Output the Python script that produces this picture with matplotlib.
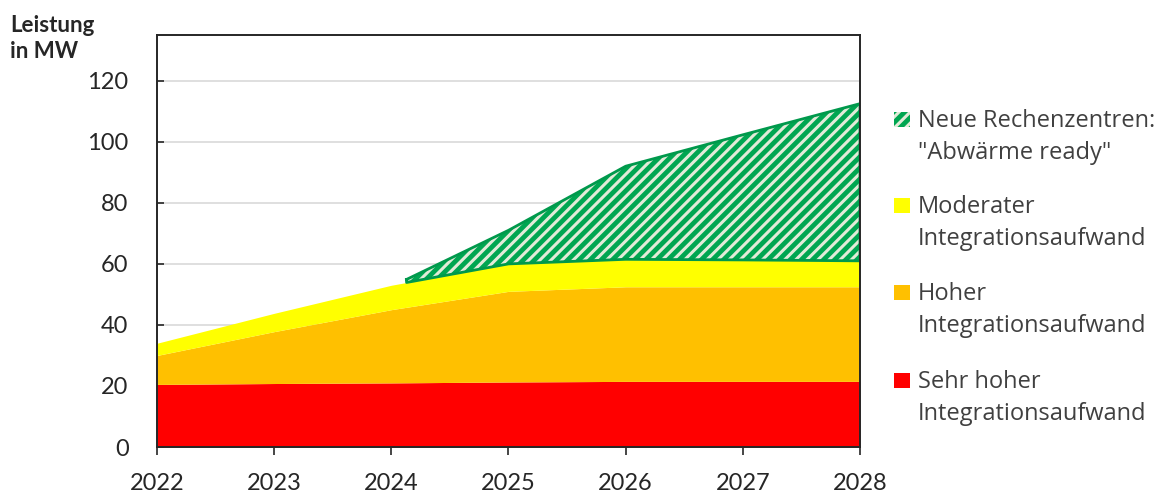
import matplotlib
matplotlib.use("Agg")
import matplotlib.pyplot as plt
from matplotlib.patches import Rectangle
import numpy as np

# Installed capacity (MW) per year, stacked by integration effort
years = [2022, 2023, 2024, 2025, 2026, 2027, 2028]
sehr_hoch = [20.5, 20.8, 21.0, 21.3, 21.5, 21.5, 21.5]
hoch = [9.5, 17.0, 24.0, 29.7, 31.0, 31.0, 31.0]
moderat = [4.0, 6.0, 8.0, 9.0, 9.0, 8.8, 8.5]

# New data centres, "waste-heat ready" (starts early 2024)
neu_years = [2024.13, 2025, 2026, 2027, 2028]
neu_values = [1.0, 11.0, 30.5, 41.0, 51.5]

series_labels = [
    'Neue Rechenzentren:\n"Abwärme ready"',
    "Moderater\nIntegrationsaufwand",
    "Hoher\nIntegrationsaufwand",
    "Sehr hoher\nIntegrationsaufwand",
]
y_ticks = [0, 20, 40, 60, 80, 100, 120]

c_red = "#FF0000"
c_orange = "#FFC000"
c_yellow = "#FFFF00"
c_green = "#00A651"
c_hatch = "#E2EBD8"

plt.rcParams["font.family"] = ["Lato", "DejaVu Sans"]
plt.rcParams["hatch.linewidth"] = 2.2

W, H = 1173.0, 493.0
fig = plt.figure(figsize=(W / 100, H / 100), dpi=100)
ax = fig.add_axes([157 / W, 1 - 447 / H, (860 - 157) / W, (447 - 35) / H])

x = np.array(years, dtype=float)
l1 = np.array(sehr_hoch)
l2 = l1 + np.array(hoch)
l3 = l2 + np.array(moderat)

ax.fill_between(x, 0, l1, color=c_red, lw=0, zorder=2)
ax.fill_between(x, l1, l2, color=c_orange, lw=0, zorder=2)
ax.fill_between(x, l2, l3, color=c_yellow, lw=0, zorder=2)

xn = np.array(neu_years)
base_n = np.interp(xn, x, l3)
top_n = base_n + np.array(neu_values)
ax.fill_between(xn, base_n, top_n, facecolor=c_green, edgecolor="none", lw=0, zorder=2)
ax.fill_between(xn, base_n, top_n, facecolor="none", edgecolor=c_hatch, hatch="///", lw=0, zorder=3)
ax.plot(np.r_[xn, xn[::-1], xn[:1]], np.r_[top_n, base_n[::-1], top_n[:1]],
        color="#00994C", lw=2.0, zorder=4, solid_joinstyle="round")

ax.set_xlim(2022, 2028)
ax.set_ylim(0, 135)
ax.set_yticks(y_ticks)
ax.set_xticks(years)
ax.set_xticklabels([str(y) for y in years])
ax.grid(axis="y", color="#D9D9D9", lw=1.2, zorder=0)
ax.set_axisbelow(True)
for s in ax.spines.values():
    s.set_color("#262626")
    s.set_linewidth(1.4)
    s.set_zorder(6)
ax.tick_params(axis="y", direction="in", length=5, width=1.2, labelsize=17, pad=20.5, colors="#262626")
ax.tick_params(axis="x", direction="out", length=6, width=1.2, labelsize=17, pad=13, colors="#262626")

# Axis caption
fig.text(10 / W, 1 - 32 / H, "Leistung", fontsize=16, fontweight="bold",
         color="#262626", va="baseline", ha="left")
fig.text(10 / W, 1 - 58 / H, "in MW", fontsize=16, fontweight="bold",
         color="#262626", va="baseline", ha="left")

# Legend drawn as patches and text beside the axes
legend_colors = [c_green, c_yellow, c_orange, c_red]
legend_base = [127, 213, 300, 388]  # baseline row of each entry's first line
line_step = 32
for lab, col, yb in zip(series_labels, legend_colors, legend_base):
    hatch = "///" if col == c_green else None
    r = Rectangle((894 / W, 1 - yb / H), 16 / W, 15 / H, transform=fig.transFigure,
                  facecolor=col, edgecolor=c_hatch if hatch else "none", hatch=hatch, lw=0)
    fig.add_artist(r)
    for i, line in enumerate(lab.split("\n")):
        fig.text(918 / W, 1 - (yb + i * line_step) / H, line, fontsize=17,
                 family=["Open Sans", "DejaVu Sans"], color="#404040",
                 va="baseline", ha="left")

fig.savefig("out.png", dpi=100)
